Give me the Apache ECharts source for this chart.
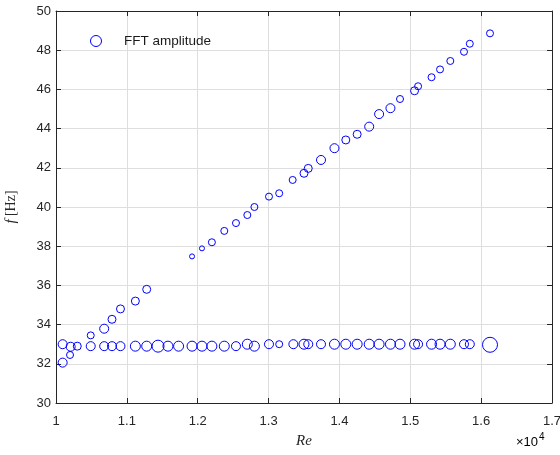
<!DOCTYPE html>
<html>
<head>
<meta charset="utf-8">
<script src="https://cdn.jsdelivr.net/npm/echarts@6/dist/echarts.min.js"></script>
<style>
  html, body { margin: 0; padding: 0; background: #fff; }
  #chart { width: 560px; height: 455px; }
</style>
</head>
<body>
<div id="chart"></div>
<script>
// Reynolds number (x 1e4), frequency [Hz] and marker amplitude for each branch
const reLower = [1.0094, 1.0207, 1.030, 1.049, 1.068, 1.079, 1.091, 1.112, 1.128, 1.144,
                 1.158, 1.173, 1.192, 1.206, 1.220, 1.2375, 1.254, 1.270, 1.280, 1.3006,
                 1.315, 1.335, 1.350, 1.356, 1.374, 1.393, 1.409, 1.425, 1.442, 1.456,
                 1.472, 1.4855, 1.506, 1.511, 1.530, 1.542, 1.5565, 1.5758, 1.584, 1.6125];
const fLower  = [33.0, 32.87, 32.9, 32.9, 32.9, 32.9, 32.9, 32.9, 32.9, 32.9,
                 32.9, 32.9, 32.9, 32.9, 32.9, 32.9, 32.9, 33.0, 32.9, 33.0,
                 33.0, 33.0, 33.0, 33.0, 33.0, 33.0, 33.0, 33.0, 33.0, 33.0,
                 33.0, 33.0, 33.0, 33.0, 33.0, 33.0, 33.0, 33.0, 33.0, 32.97];
const ampLower = [9, 9, 8, 9, 9, 9, 9, 10, 10, 12,
                  10, 10, 10, 10, 10, 10, 9, 10, 10, 9,
                  7, 9, 10, 9, 9, 10, 10, 10, 10, 10,
                  10, 10, 10, 9, 10, 10, 10, 9, 9, 15];

const reUpper = [1.0094, 1.0198, 1.049, 1.068, 1.079, 1.091, 1.112, 1.128,
                 1.192, 1.206, 1.220, 1.2375, 1.254, 1.270, 1.280, 1.3006, 1.315,
                 1.334, 1.350, 1.356, 1.374, 1.393, 1.409, 1.425, 1.442, 1.456,
                 1.472, 1.4855, 1.506, 1.511, 1.530, 1.542, 1.5565, 1.5758, 1.584, 1.6125];
const fUpper  = [32.06, 32.45, 33.45, 33.79, 34.27, 34.80, 35.20, 35.80,
                 37.48, 37.89, 38.20, 38.78, 39.18, 39.59, 40.0, 40.53, 40.70,
                 41.38, 41.72, 41.97, 42.40, 43.0, 43.42, 43.71, 44.10, 44.74,
                 45.04, 45.51, 45.93, 46.16, 46.62, 47.02, 47.45, 47.92, 48.33, 48.86];
const ampUpper = [9, 7, 7, 9, 8, 8, 8, 8,
                  5, 5, 7, 7, 7, 7, 7, 7, 7,
                  7, 8, 8, 9, 9, 8, 8, 9, 9,
                  9, 7, 8, 7, 7, 7, 7, 7, 7, 7];

// Axis ticks
const xTicks = { min: 1.0, max: 1.7, step: 0.1 };
const yTicks = { min: 30, max: 50, step: 2 };

const points = [];
reLower.forEach((r, i) => points.push([r, fLower[i], ampLower[i]]));
reUpper.forEach((r, i) => points.push([r, fUpper[i], ampUpper[i]]));

const axisColor = '#262626';
const gridColor = '#dedede';
const sansFont = '"Liberation Sans", Arial, sans-serif';
const serifFont = '"Liberation Serif", "DejaVu Serif", serif';

const fmt = v => String(parseFloat(v.toFixed(2)));

const chart = echarts.init(document.getElementById('chart'), null, { renderer: 'canvas' });
chart.setOption({
  animation: false,
  backgroundColor: '#ffffff',
  grid: { left: 56, top: 11, right: 8, bottom: 52, containLabel: false, outerBoundsMode: 'none' },
  legend: {
    left: 85, top: 29, itemWidth: 14, itemHeight: 11, itemGap: 10,
    textStyle: { fontFamily: sansFont, fontSize: 13.5, color: '#1a1a1a', padding: [0, 0, 0, 16] },
    data: [{
      name: 'FFT amplitude', icon: 'circle',
      itemStyle: { color: 'transparent', borderColor: '#0000ff', borderWidth: 1 }
    }]
  },
  xAxis: [{
    type: 'value', min: xTicks.min, max: xTicks.max, interval: xTicks.step,
    position: 'bottom',
    name: 'Re', nameLocation: 'middle', nameGap: 31,
    nameTextStyle: { fontFamily: serifFont, fontStyle: 'italic', fontSize: 15, color: axisColor },
    axisLine: { show: true, onZero: false, lineStyle: { color: axisColor, width: 1 } },
    axisTick: { show: true, inside: true, length: 5, lineStyle: { color: axisColor } },
    axisLabel: { formatter: fmt, margin: 12, fontFamily: sansFont, fontSize: 13, color: axisColor },
    splitLine: { show: true, lineStyle: { color: gridColor, width: 1 } }
  }, {
    type: 'value', min: xTicks.min, max: xTicks.max, interval: xTicks.step,
    position: 'top',
    axisLine: { show: true, onZero: false, lineStyle: { color: axisColor, width: 1 } },
    axisTick: { show: true, inside: true, length: 5, lineStyle: { color: axisColor } },
    axisLabel: { show: false },
    splitLine: { show: false }
  }],
  yAxis: [{
    type: 'value', min: yTicks.min, max: yTicks.max, interval: yTicks.step,
    position: 'left',
    name: '{i|f} {n|[Hz]}', nameLocation: 'middle', nameGap: 37, nameRotate: 90,
    nameTextStyle: {
      color: axisColor,
      rich: {
        i: { fontFamily: serifFont, fontStyle: 'italic', fontSize: 15, color: axisColor },
        n: { fontFamily: serifFont, fontSize: 14, color: axisColor }
      }
    },
    axisLine: { show: true, onZero: false, lineStyle: { color: axisColor, width: 1 } },
    axisTick: { show: true, inside: true, length: 5, lineStyle: { color: axisColor } },
    axisLabel: { margin: 5, fontFamily: sansFont, fontSize: 13, color: axisColor },
    splitLine: { show: true, lineStyle: { color: gridColor, width: 1 } }
  }, {
    type: 'value', min: yTicks.min, max: yTicks.max, interval: yTicks.step,
    position: 'right',
    axisLine: { show: true, onZero: false, lineStyle: { color: axisColor, width: 1 } },
    axisTick: { show: true, inside: true, length: 5, lineStyle: { color: axisColor } },
    axisLabel: { show: false },
    splitLine: { show: false }
  }],
  graphic: [{
    type: 'text', left: 516, top: 432,
    style: {
      text: '{a|\u00d7}{b|10}{c|4}',
      rich: {
        a: { fontFamily: sansFont, fontSize: 13, color: axisColor, verticalAlign: 'bottom' },
        b: { fontFamily: sansFont, fontSize: 13, color: axisColor, verticalAlign: 'bottom' },
        c: { fontFamily: sansFont, fontSize: 10, color: axisColor, verticalAlign: 'top', padding: [0, 0, 7, 1] }
      }
    }
  }],
  series: [{
    name: 'FFT amplitude',
    type: 'scatter',
    xAxisIndex: 0, yAxisIndex: 0,
    symbol: 'circle',
    symbolSize: d => d[2],
    itemStyle: { color: 'transparent', borderColor: '#0000ff', borderWidth: 1, opacity: 1 },
    emphasis: { disabled: true },
    data: points
  }]
});
</script>
</body>
</html>
